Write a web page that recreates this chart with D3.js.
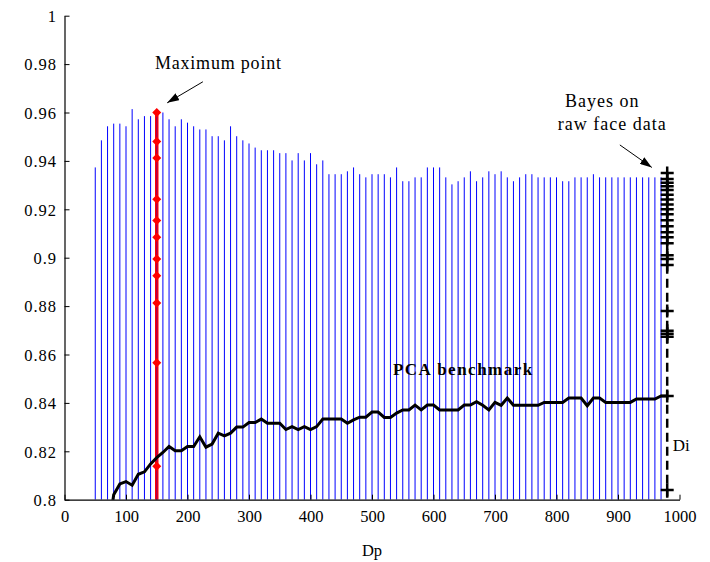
<!DOCTYPE html>
<html>
<head>
<meta charset="utf-8">
<script src="https://cdn.jsdelivr.net/npm/d3@7"></script>
<style>
  body { margin: 0; background: #fff; }
  svg { display: block; font-family: "Liberation Serif", "Times New Roman", serif; }
</style>
</head>
<body>
<div id="chart"></div>
<script>
// Dp values of the blue columns and the best accuracy reached in each column
const dpValues = d3.range(50, 980, 10)
const columnTops = [
  0.9373, 0.9485, 0.9543, 0.9554, 0.9554, 0.9543, 0.9614, 0.9572, 0.9585, 0.9585,
  0.9600, 0.9600, 0.9572, 0.9543, 0.9572, 0.9558, 0.9543, 0.9530, 0.9530, 0.9502,
  0.9502, 0.9485, 0.9543, 0.9502, 0.9485, 0.9472, 0.9455, 0.9444, 0.9444, 0.9444,
  0.9432, 0.9432, 0.9402, 0.9432, 0.9402, 0.9432, 0.9386, 0.9402, 0.9345, 0.9345,
  0.9345, 0.9357, 0.9373, 0.9345, 0.9332, 0.9345, 0.9345, 0.9345, 0.9332, 0.9373,
  0.9316, 0.9316, 0.9332, 0.9332, 0.9373, 0.9373, 0.9373, 0.9332, 0.9303, 0.9316,
  0.9332, 0.9357, 0.9316, 0.9332, 0.9357, 0.9345, 0.9357, 0.9332, 0.9316, 0.9332,
  0.9345, 0.9345, 0.9332, 0.9332, 0.9332, 0.9332, 0.9316, 0.9316, 0.9332, 0.9332,
  0.9332, 0.9345, 0.9332, 0.9332, 0.9332, 0.9332, 0.9332, 0.9332, 0.9332, 0.9332,
  0.9332, 0.9332, 0.9332
]

// maximum column (Dp = 150) with its marked points
const maxDp = 150
const maxPoints = [0.960, 0.948, 0.9412, 0.9242, 0.9154, 0.9084, 0.8995, 0.8925, 0.8813, 0.8566, 0.8138]

// PCA benchmark
const pcaDp = d3.range(70, 990, 10)
const pcaValues = [
  0.785, 0.802, 0.8065, 0.8075, 0.806, 0.8105, 0.8115, 0.8148, 0.8174, 0.8195,
  0.822, 0.8202, 0.8202, 0.822, 0.822, 0.826, 0.8217, 0.823, 0.8275, 0.8264,
  0.8275, 0.830, 0.830, 0.8319, 0.8319, 0.8333, 0.8316, 0.8316, 0.8316, 0.829,
  0.8302, 0.829, 0.8302, 0.829, 0.8302, 0.8333, 0.8333, 0.8333, 0.8333, 0.8316,
  0.833, 0.8341, 0.8341, 0.8362, 0.8362, 0.834, 0.834, 0.8358, 0.8371, 0.8371,
  0.8391, 0.8371, 0.8391, 0.8391, 0.8371, 0.8371, 0.8371, 0.8371, 0.8391, 0.8391,
  0.8405, 0.839, 0.8371, 0.8402, 0.839, 0.842, 0.839, 0.839, 0.839, 0.839,
  0.839, 0.8402, 0.8402, 0.8402, 0.8402, 0.842, 0.842, 0.842, 0.8388, 0.842,
  0.842, 0.8402, 0.8402, 0.8402, 0.8402, 0.8402, 0.8416, 0.8416, 0.8416, 0.8416,
  0.8429, 0.8429
]

// Bayes on raw face data (Dp = 980) for each Di
const bayesDp = 980
const bayesValues = [
  0.935, 0.9325, 0.931, 0.9295, 0.928, 0.926, 0.924, 0.922, 0.920, 0.918,
  0.9155, 0.913, 0.9105, 0.9085, 0.906, 0.901, 0.8995, 0.897, 0.878, 0.8698,
  0.8686, 0.8673, 0.8429, 0.804
]

const xTicks = d3.range(0, 1001, 100)
const yTicks = d3.range(0.8, 1.0001, 0.02)

const width = 710, height = 562
const margin = { left: 64.5, right: 30.5, top: 15.7, bottom: 62.3 }

const svg = d3.select("#chart").append("svg")
    .attr("width", width)
    .attr("height", height)

const x = d3.scaleLinear().domain([0, 1000]).range([margin.left, width - margin.right])
const y = d3.scaleLinear().domain([0.8, 1]).range([height - margin.bottom, margin.top])

svg.append("defs").append("clipPath").attr("id", "plot-clip")
    .append("rect")
    .attr("x", x(0)).attr("y", y(1))
    .attr("width", x(1000) - x(0)).attr("height", y(0.8) - y(1))

svg.append("defs").append("marker")
    .attr("id", "arrow")
    .attr("viewBox", "0 0 12 8")
    .attr("refX", 12).attr("refY", 4)
    .attr("markerWidth", 12).attr("markerHeight", 8)
    .attr("markerUnits", "userSpaceOnUse")
    .attr("orient", "auto")
    .append("path")
    .attr("d", "M0,0 L12,4 L0,8 Z")
    .attr("fill", "#000")

const plot = svg.append("g").attr("clip-path", "url(#plot-clip)")

// blue columns
plot.append("g").selectAll("line")
    .data(dpValues.map((d, i) => ({ dp: d, top: columnTops[i] })))
    .enter().append("line")
    .attr("x1", d => x(d.dp)).attr("x2", d => x(d.dp))
    .attr("y1", y(0.8)).attr("y2", d => y(d.top))
    .attr("stroke", "#0000ff")
    .attr("stroke-width", 1)

// maximum column in red
plot.append("line")
    .attr("x1", x(maxDp)).attr("x2", x(maxDp))
    .attr("y1", y(0.8)).attr("y2", y(d3.max(maxPoints)))
    .attr("stroke", "#ff0000")
    .attr("stroke-width", 3.5)
plot.append("line")
    .attr("x1", x(maxDp)).attr("x2", x(maxDp))
    .attr("y1", y(0.8)).attr("y2", y(d3.max(maxPoints)))
    .attr("stroke", "#0000ff")
    .attr("stroke-opacity", 0.45)
    .attr("stroke-width", 1)

plot.append("g").selectAll("path")
    .data(maxPoints)
    .enter().append("path")
    .attr("transform", d => `translate(${x(maxDp)},${y(d)})`)
    .attr("d", "M0,-4.5 L4.5,0 L0,4.5 L-4.5,0 Z")
    .attr("fill", "#ff0000")

// PCA benchmark line
const pcaLine = d3.line()
    .x((d, i) => x(pcaDp[i]))
    .y(d => y(d))
plot.append("path")
    .datum(pcaValues)
    .attr("d", pcaLine)
    .attr("fill", "none")
    .attr("stroke", "#000")
    .attr("stroke-width", 3)
    .attr("stroke-linejoin", "miter")

// Bayes dashed column with plus markers
plot.append("line")
    .attr("x1", x(bayesDp)).attr("x2", x(bayesDp))
    .attr("y1", y(0.795)).attr("y2", y(d3.max(bayesValues)))
    .attr("stroke", "#000")
    .attr("stroke-width", 2.5)
    .attr("stroke-dasharray", "9,5")

svg.append("g").selectAll("path")
    .data(bayesValues)
    .enter().append("path")
    .attr("transform", d => `translate(${x(bayesDp)},${y(d)})`)
    .attr("d", "M-6.5,0 H6.5 M0,-6.5 V6.5")
    .attr("stroke", "#000")
    .attr("stroke-width", 2.5)

// axes
const xAxis = svg.append("g")
    .attr("transform", `translate(0,${y(0.8)})`)
    .call(d3.axisBottom(x).tickValues(xTicks).tickSizeInner(-5).tickSizeOuter(0).tickFormat(d3.format("d")))
xAxis.select(".domain").attr("stroke", "#000").attr("stroke-width", 1.2)
xAxis.selectAll(".tick line").attr("stroke", "#000")
xAxis.selectAll(".tick text")
    .attr("y", 22).attr("dy", 0)
    .attr("fill", "#000")
    .style("font-family", "'Liberation Serif', 'Times New Roman', serif")
    .style("font-size", "16.5px")

const yAxis = svg.append("g")
    .attr("transform", `translate(${x(0)},0)`)
    .call(d3.axisLeft(y).tickValues(yTicks).tickSizeInner(-5).tickSizeOuter(0).tickFormat(d => String(+d.toFixed(2))))
yAxis.select(".domain").attr("stroke", "#000").attr("stroke-width", 1.2)
yAxis.selectAll(".tick line").attr("stroke", "#000")
yAxis.selectAll(".tick text")
    .attr("x", -7.5).attr("dy", "0.35em")
    .attr("fill", "#000")
    .style("font-family", "'Liberation Serif', 'Times New Roman', serif")
    .style("font-size", "16.5px")
    .style("letter-spacing", "1px")

svg.append("text")
    .attr("x", (x(0) + x(1000)) / 2).attr("y", 556)
    .attr("text-anchor", "middle")
    .style("font-size", "16.5px")
    .text("Dp")

// annotations
svg.append("text")
    .attr("x", x(147)).attr("y", y(0.9778))
    .style("font-size", "18px").style("letter-spacing", "0.8px")
    .text("Maximum point")
svg.append("line")
    .attr("x1", x(225)).attr("y1", y(0.9727))
    .attr("x2", x(167)).attr("y2", y(0.964))
    .attr("stroke", "#000").attr("stroke-width", 1)
    .attr("marker-end", "url(#arrow)")

svg.append("text")
    .attr("x", x(814)).attr("y", y(0.9624))
    .style("font-size", "18px").style("letter-spacing", "1px")
    .text("Bayes on")
svg.append("text")
    .attr("x", x(802)).attr("y", y(0.9528))
    .style("font-size", "18px").style("letter-spacing", "1px")
    .text("raw face data")
svg.append("line")
    .attr("x1", x(903)).attr("y1", y(0.9466))
    .attr("x2", x(955)).attr("y2", y(0.9373))
    .attr("stroke", "#000").attr("stroke-width", 1)
    .attr("marker-end", "url(#arrow)")

svg.append("text")
    .attr("x", x(534)).attr("y", y(0.8515))
    .style("font-size", "17px").style("font-weight", "bold").style("letter-spacing", "1.5px")
    .text("PCA benchmark")

svg.append("text")
    .attr("x", x(989)).attr("y", y(0.8203))
    .style("font-size", "17px")
    .text("Di")
</script>
</body>
</html>
